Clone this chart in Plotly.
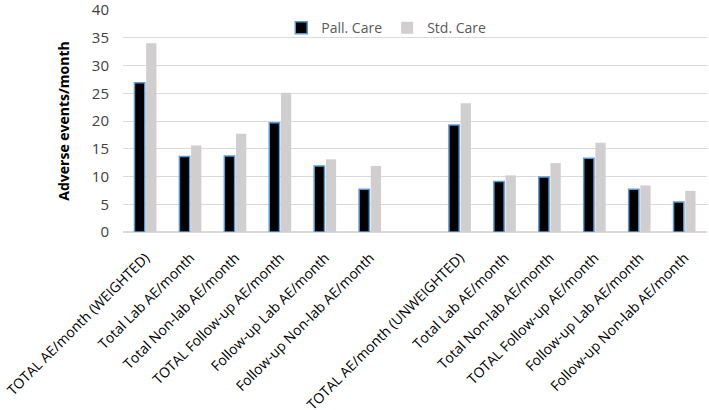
import plotly.graph_objects as go

categories = [
    "TOTAL AE/month (WEIGHTED)", "Total Lab AE/month", "Total Non-lab AE/month",
    "TOTAL Follow-up AE/month", "Follow-up Lab AE/month", "Follow-up Non-lab AE/month",
    "",
    "TOTAL AE/month (UNWEIGHTED)", "Total Lab AE/month", "Total Non-lab AE/month",
    "TOTAL Follow-up AE/month", "Follow-up Lab AE/month", "Follow-up Non-lab AE/month",
]
pall_care = [26.9, 13.6, 13.7, 19.7, 11.9, 7.7, None, 19.3, 9.1, 9.9, 13.3, 7.7, 5.4]
std_care = [34.0, 15.6, 17.7, 25.1, 13.1, 11.9, None, 23.2, 10.2, 12.4, 16.1, 8.4, 7.4]

slots = list(range(len(categories)))
font = "'Open Sans', sans-serif"

fig = go.Figure()
fig.add_bar(x=slots, y=pall_care, name="Pall. Care",
            marker=dict(color="#000000", line=dict(color="#5B9BD5", width=1.5)))
fig.add_bar(x=slots, y=std_care, name="Std. Care",
            marker=dict(color="#D0CECE", line=dict(width=0)))

fig.update_layout(
    width=709, height=410,
    margin=dict(l=123, r=2, t=10, b=178),
    paper_bgcolor="white", plot_bgcolor="white",
    barmode="group", bargap=0.48, bargroupgap=0.12,
    font=dict(family=font, color="#404040"),
    legend=dict(orientation="h", x=0.271, y=0.99, xanchor="left", yanchor="top",
                font=dict(size=14, color="#595959"), bgcolor="rgba(0,0,0,0)",
                itemwidth=30),
    showlegend=True,
)
fig.update_xaxes(
    range=[-0.5, len(categories) - 0.5],
    tickmode="array", tickvals=slots, ticktext=categories,
    tickangle=-45, tickfont=dict(size=14, color="#000000"),
    showgrid=False, ticks="", showline=False, zeroline=False,
    ticklabelstandoff=14, ticklabeloverflow="allow", automargin=False,
)
fig.update_yaxes(
    range=[0, 40], dtick=5,
    showgrid=True, gridcolor="#D9D9D9", gridwidth=1,
    zeroline=True, zerolinecolor="#D9D9D9", zerolinewidth=1.5,
    tickfont=dict(size=15, color="#404040"), ticks="", ticklabelstandoff=13,
    ticklabeloverflow="allow",
    title=dict(text="<b>Adverse events/month</b>", font=dict(size=14, color="#000000"),
               standoff=18),
    automargin=False,
)

fig.write_html("out.html", config={"displayModeBar": False},
               post_script="document.body.style.margin = '0';")
